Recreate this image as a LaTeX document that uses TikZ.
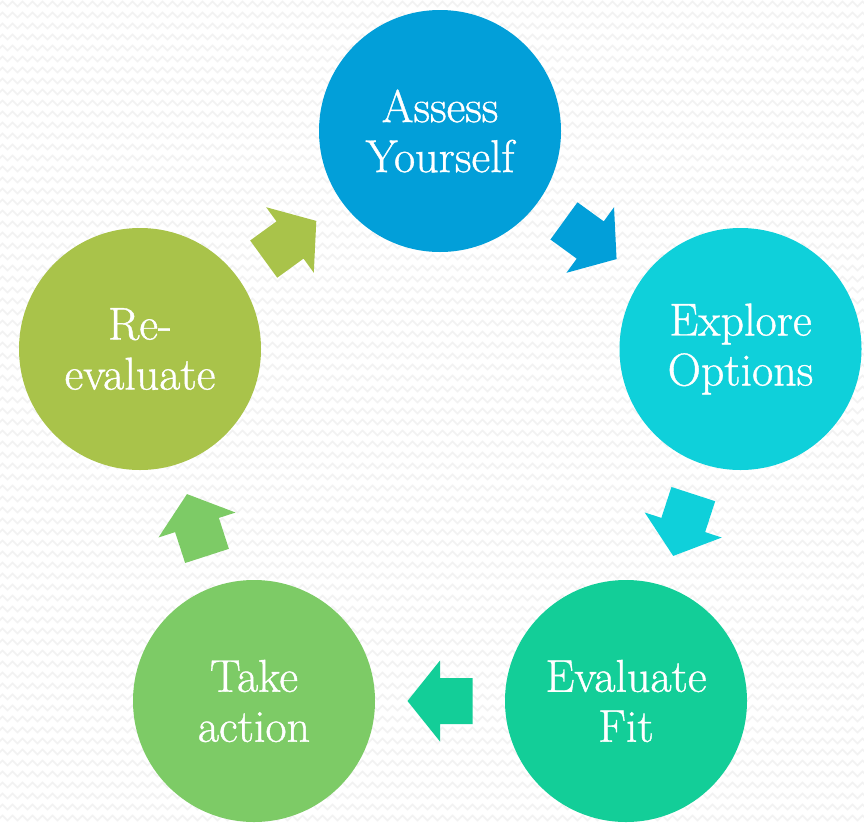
\documentclass[tikz,border=0pt]{standalone}
\usepackage{fontspec}
\newfontfamily\stagefont[BoldFont={Latin Modern Roman}, BoldFeatures={FakeBold=0.9}]{Latin Modern Roman}
\usetikzlibrary{calc,decorations.pathmorphing}
\definecolor{cassess}{HTML}{029FD9}
\definecolor{cexplore}{HTML}{0FD0DA}
\definecolor{cfit}{HTML}{13CE98}
\definecolor{ctake}{HTML}{7DCB66}
\definecolor{creeval}{HTML}{A9C34A}
\definecolor{bgzig}{HTML}{F2F2F2}
\tikzset{
  stage/.style={circle, minimum size=242pt, inner sep=0pt, text=white, align=center,
    font=\stagefont\bfseries\fontsize{46}{50}\selectfont},
  blockarrow/.pic={\fill (-32.5,-23) -- (0,-23) -- (0,-40.5) -- (32.5,0) -- (0,40.5) -- (0,23) -- (-32.5,23) -- cycle;},
  zig/.style={draw=bgzig, line width=1.5pt, decorate, decoration={zigzag, segment length=10pt, amplitude=2.5pt}}
}
\newcommand{\cyclearrow}[3]{%
  \path let \p1=($(#2)-(#1)$), \n1={atan2(\y1,\x1)} in
    ($(#1)!0.5!(#2)$) pic[rotate=\n1, color=#3] {blockarrow};}
\begin{document}
\begin{tikzpicture}[x=1pt,y=-1pt]
\useasboundingbox (0,0) rectangle (864,822);
\fill[white] (0,0) rectangle (864,822);
\foreach \r in {0,...,75}{
  \draw[zig] (-10,{4+11*\r}) -- (880,{4+11*\r});
}
\node[stage, fill=cassess]  (Assess)  at (440,131) {Assess\\Yourself};
\node[stage, fill=cexplore] (Explore) at (740.5,349) {Explore\\Options};
\node[stage, fill=cfit]     (Fit)     at (626,701) {Evaluate\\Fit};
\node[stage, fill=ctake]    (Take)    at (254,701) {Take\\action};
\node[stage, fill=creeval]  (Reeval)  at (140,349) {Re-\\evaluate};
\cyclearrow{Assess}{Explore}{cassess}
\cyclearrow{Explore}{Fit}{cexplore}
\cyclearrow{Fit}{Take}{cfit}
\cyclearrow{Take}{Reeval}{ctake}
\cyclearrow{Reeval}{Assess}{creeval}
\end{tikzpicture}
\end{document}
